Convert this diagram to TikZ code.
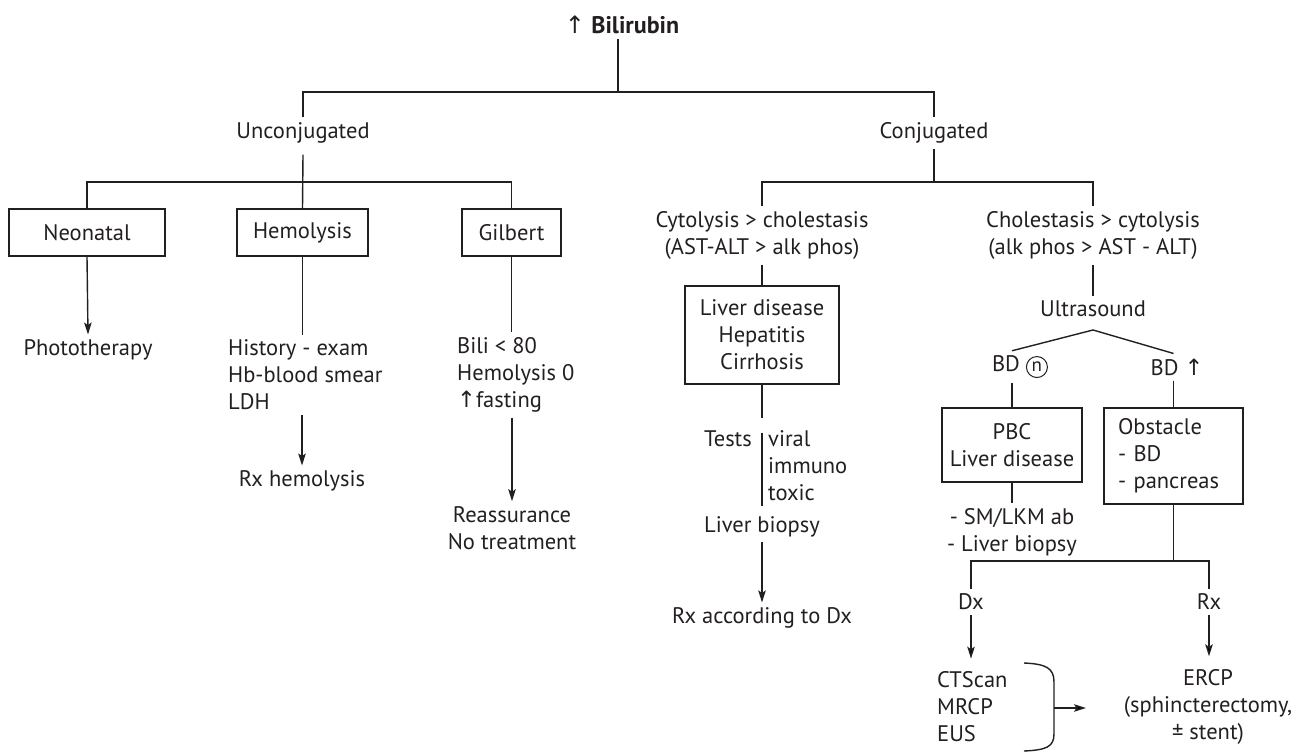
\documentclass[tikz,border=0pt]{standalone}
\usepackage{fontspec}
\setmainfont{PT Sans}
\newfontfamily\symfont{DejaVu Sans}
\usetikzlibrary{arrows.meta,calc}
\definecolor{ink}{HTML}{231F20}
\newcommand{\uparr}{{\symfont ↑}}
% circled n, drawn as a ring around the letter
\newcommand{\ncirc}{\tikz[baseline=(nc.base)]\node[circle, draw=ink, line width=1pt, inner sep=0pt, minimum size=21pt, font=\fontsize{19}{19}\selectfont] (nc) {n};}
\begin{document}
\begin{tikzpicture}[x=1pt,y=-1pt,
  every node/.style={font=\fontsize{22.5}{27}\selectfont, text=ink, inner sep=0pt},
  txt/.style={align=center, inner ysep=5pt},
  box/.style={draw=ink, line width=1.4pt, align=center},
  ln/.style={draw=ink, line width=1.4pt},
  arr/.style={ln, -{Stealth[length=12pt,width=7.5pt,inset=2.5pt]}}]
\useasboundingbox (0,0) rectangle (1298,752);

% root and first split
\node[txt, font=\fontsize{24}{27}\selectfont] (bili) at (622,25) {\uparr\ \textbf{Bilirubin}};
\coordinate (jtop) at (618,92);
\node[txt] (unc) at (303,133) {Unconjugated};
\node[txt] (con) at (934,133) {Conjugated};
\draw[ln] (bili.south -| jtop) -- (jtop);
\draw[ln] (unc.north) |- (jtop) -| (con.north);

% unconjugated branch
\coordinate (jun) at (303,182);
\node[box, minimum width=156pt, minimum height=47pt] (neo) at (87,232.5) {Neonatal};
\node[box, minimum width=131pt, minimum height=47pt] (hem) at (302.5,232.5) {Hemolysis};
\node[box, minimum width=99pt, minimum height=47pt] (gil) at (511.5,232.5) {Gilbert};
\draw[ln] ([yshift=-6pt]unc.south) -- (hem.north);
\draw[ln] (neo.north) |- (jun) -| (gil.north);

\node[txt] (photo) at (88,350) {Phototherapy};
\draw[arr] (neo.south) -- (photo.north);

\node[txt, align=left, anchor=west] (hist) at (228,375) {History - exam\\Hb-blood smear\\LDH};
\draw[ln] (hem.south) -- (hem.south |- hist.north);
\node[txt] (rxh) at (302,481) {Rx hemolysis};
\draw[arr] (hist.south -| rxh) -- (rxh.north);

\node[txt, align=left, anchor=west] (gtx) at (457,375) {Bili < 80\\Hemolysis 0\\\uparr fasting};
\draw[ln] (gil.south) -- (gil.south |- gtx.north);
\node[txt] (reas) at (512,528) {Reassurance\\No treatment};
\draw[arr] (gtx.south -| reas) -- (reas.north);

% conjugated branch
\coordinate (jcon) at (934,182);
\node[txt] (cyt) at (762,235.5) {Cytolysis > cholestasis\\(AST-ALT > alk phos)};
\node[txt] (chol) at (1093,235.5) {Cholestasis > cytolysis\\(alk phos > AST - ALT)};
\draw[ln] (con.south) -- (jcon);
\draw[ln] (cyt.north) |- (jcon) -| (chol.north);

% cytolysis side
\node[box, minimum width=154pt, minimum height=98pt] (ldis) at (762,335) {Liver disease\\Hepatitis\\Cirrhosis};
\draw[ln] (cyt.south) -- (ldis.north);
\node[txt, align=left, anchor=west] (tlist) at (768,466) {viral\\immuno\\toxic};
\node[txt, anchor=east] (tests) at (752,439) {Tests};
\draw[ln] (ldis.south) -- ($(ldis.south |- tlist.north)+(0,-8)$);
\draw[ln] ($(tlist.north west)+(-6,7)$) -- ($(tlist.south west)+(-6,0)$);
\node[txt] (lbx) at (762,527) {Liver biopsy};
\node[txt] (rxdx) at (762,618) {Rx according to Dx};
\draw[arr] (lbx.south) -- (rxdx.north);

% cholestasis side
\node[txt] (us) at (1093,309) {Ultrasound};
\draw[ln] (chol.south) -- (us.north);
\coordinate (apex) at (1093,330);
\node[txt] (bdn) at (1020,367) {BD \ncirc};
\node[txt] (bdu) at (1177,367) {BD \uparr};
\node[box, minimum width=140pt, minimum height=74pt] (pbc) at (1012,445) {PBC\\Liver disease};
\node[box, minimum height=96pt, text width=111pt, inner xsep=14pt, align=left] (obs) at (1173.5,456) {Obstacle\\- BD\\- pancreas};
\draw[ln] (bdn.north -| pbc.north) -- (apex) -- (bdu.north -| obs.north);
\draw[ln] (bdn.south -| pbc.north) -- (pbc.north);
\draw[ln] (bdu.south -| obs.north) -- (obs.north);

\node[txt] (sm) at (1012,532) {- SM/LKM ab\\- Liver biopsy};
\draw[ln] (pbc.south) -- (sm.north);

\coordinate (jobs) at (1173.5,561);
\node[txt] (dx) at (971,602) {Dx};
\node[txt] (rx) at (1209,602) {Rx};
\draw[ln] (obs.south) -- (jobs);
\draw[ln] (dx.north) |- (jobs) -| (rx.north);

\node[txt, align=left, anchor=west] (ct) at (937,707) {CTScan\\MRCP\\EUS};
\node[txt] (ercp) at (1208,707) {ERCP\\(sphincterectomy,\\± stent)};
\draw[arr] (dx.south) -- ($(dx.south |- ct.north)+(0,-8)$);
\draw[arr] (rx.south) -- ($(rx.south |- ercp.north)+(0,-8)$);

% bracket grouping the imaging tests
\draw[ln] (1024,663) .. controls (1046,664) and (1054,668) .. (1054,682)
  -- (1054,734) .. controls (1054,747) and (1046,750) .. (1024,751);
\coordinate (brk) at (1054,708);
\coordinate (brkend) at (1086,708);
\draw[arr] (brk) -- (brkend);
\end{tikzpicture}
\end{document}
